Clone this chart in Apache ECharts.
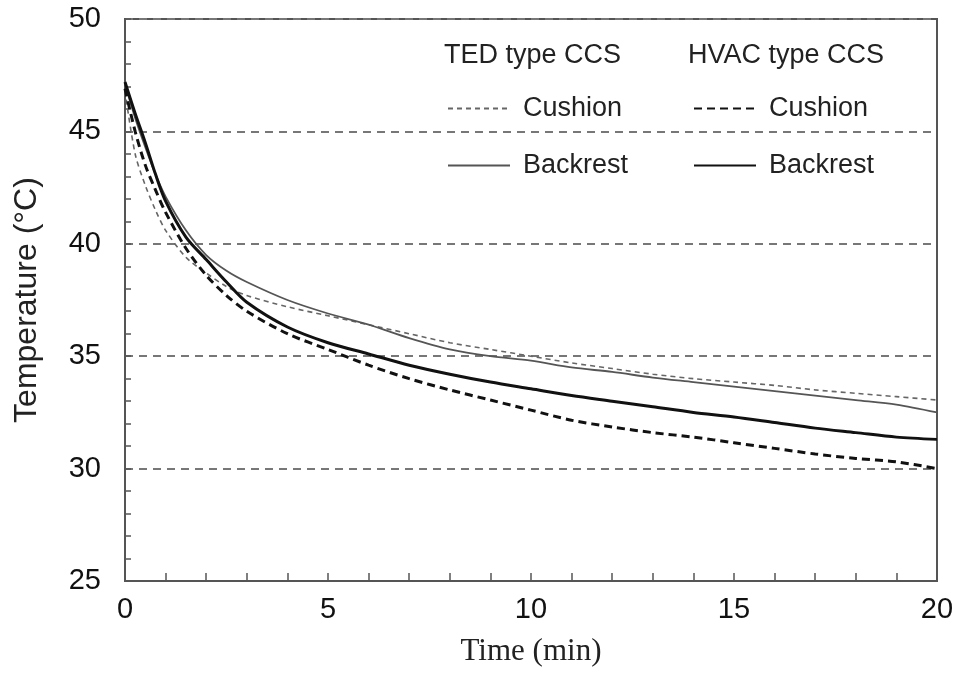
<!DOCTYPE html>
<html>
<head>
<meta charset="utf-8">
<script src="https://cdn.jsdelivr.net/npm/echarts@6/dist/echarts.min.js"></script>
<style>
  html, body { margin: 0; padding: 0; background: #fff; }
  #main { width: 957px; height: 676px; }
</style>
</head>
<body>
<div id="main"></div>
<script>
// time in minutes
var times = [0, 0.25, 0.5, 0.75, 1, 1.5, 2, 2.5, 3, 4, 5, 6, 7, 8, 9, 10, 11, 12, 13, 14, 15, 16, 17, 18, 19, 20];

var tedCushion = [46.8, 44.0, 42.6, 41.5, 40.6, 39.4, 38.7, 38.1, 37.7, 37.2, 36.8, 36.4, 36.0, 35.6, 35.3, 35.0, 34.7, 34.45, 34.2, 34.0, 33.85, 33.7, 33.5, 33.35, 33.2, 33.05];
var tedBackrest = [47.1, 45.6, 44.3, 43.1, 42.1, 40.6, 39.5, 38.8, 38.3, 37.5, 36.9, 36.4, 35.8, 35.3, 35.0, 34.8, 34.5, 34.3, 34.05, 33.85, 33.65, 33.45, 33.25, 33.05, 32.85, 32.5];
var hvacCushion = [46.9, 45.0, 43.5, 42.4, 41.4, 39.8, 38.6, 37.7, 37.0, 36.0, 35.3, 34.6, 34.0, 33.5, 33.05, 32.6, 32.15, 31.85, 31.6, 31.4, 31.15, 30.9, 30.65, 30.45, 30.3, 30.0];
var hvacBackrest = [47.2, 45.8, 44.5, 43.1, 41.9, 40.3, 39.3, 38.3, 37.4, 36.3, 35.6, 35.1, 34.6, 34.2, 33.85, 33.55, 33.25, 33.0, 32.75, 32.5, 32.3, 32.05, 31.8, 31.6, 31.4, 31.3];

function pairs(ys) {
  return times.map(function (t, i) { return [t, ys[i]]; });
}

var chart = echarts.init(document.getElementById('main'), null, { renderer: 'canvas' });

var sans = '"Liberation Sans", Arial, sans-serif';
var legendText = { fontSize: 27, fontFamily: sans, color: '#222', padding: [0, 0, 0, 8] };
function stripPrefix(name) { return name.replace(/^(TED|HVAC) /, ''); }

var option = {
  backgroundColor: '#fff',
  animation: false,
  grid: {
    left: 125, right: 20, top: 19, bottom: 95,
    show: true, borderColor: '#555', borderWidth: 2
  },
  graphic: [
    { type: 'text', left: 444, top: 42, style: { text: 'TED type CCS', font: '27px ' + sans, fill: '#222' } },
    { type: 'text', left: 688, top: 42, style: { text: 'HVAC type CCS', font: '27px ' + sans, fill: '#222' } }
  ],
  legend: [
    {
      data: ['TED Cushion', 'TED Backrest'],
      orient: 'vertical', left: 442, top: 90,
      itemWidth: 62, itemHeight: 20, itemGap: 30,
      itemStyle: { opacity: 0 },
      formatter: stripPrefix, textStyle: legendText
    },
    {
      data: ['HVAC Cushion', 'HVAC Backrest'],
      orient: 'vertical', left: 688, top: 90,
      itemWidth: 62, itemHeight: 20, itemGap: 30,
      itemStyle: { opacity: 0 },
      formatter: stripPrefix, textStyle: legendText
    }
  ],
  xAxis: {
    type: 'value', min: 0, max: 20, interval: 5,
    name: 'Time (min)', nameLocation: 'middle', nameGap: 55,
    nameTextStyle: { fontSize: 31, fontFamily: '"Liberation Serif", "Times New Roman", serif', color: '#222' },
    axisLine: { lineStyle: { color: '#555', width: 2 } },
    axisTick: { inside: true, length: 8, lineStyle: { color: '#555', width: 1.5 } },
    minorTick: { show: true, splitNumber: 5, length: 8, lineStyle: { color: '#555', width: 1.5 } },
    axisLabel: { fontSize: 29, fontFamily: sans, color: '#111', margin: 14 },
    splitLine: { show: false }
  },
  yAxis: {
    type: 'value', min: 25, max: 50, interval: 5,
    name: 'Temperature (°C)', nameLocation: 'middle', nameGap: 82, nameRotate: 90,
    nameTextStyle: { fontSize: 32, fontFamily: sans, color: '#222' },
    axisLine: { show: true, lineStyle: { color: '#555', width: 2 } },
    axisTick: { show: true, inside: true, length: 6, lineStyle: { color: '#555', width: 1.5 } },
    minorTick: { show: true, splitNumber: 5, length: 6, lineStyle: { color: '#555', width: 1.5 } },
    axisLabel: { fontSize: 29, fontFamily: sans, color: '#111', margin: 24 },
    splitLine: { show: true, lineStyle: { color: '#777', width: 2, type: [8, 6] } }
  },
  series: [
    {
      name: 'TED Cushion', type: 'line', symbol: 'none', smooth: 0.3,
      data: pairs(tedCushion),
      lineStyle: { color: '#666', width: 1.6, type: [5, 4] },
      itemStyle: { color: '#666' }
    },
    {
      name: 'TED Backrest', type: 'line', symbol: 'none', smooth: 0.3,
      data: pairs(tedBackrest),
      lineStyle: { color: '#555', width: 1.8 },
      itemStyle: { color: '#555' }
    },
    {
      name: 'HVAC Cushion', type: 'line', symbol: 'none', smooth: 0.3,
      data: pairs(hvacCushion),
      lineStyle: { color: '#111', width: 3, type: [8, 5] },
      itemStyle: { color: '#111' }
    },
    {
      name: 'HVAC Backrest', type: 'line', symbol: 'none', smooth: 0.3,
      data: pairs(hvacBackrest),
      lineStyle: { color: '#111', width: 3 },
      itemStyle: { color: '#111' }
    }
  ]
};

chart.setOption(option);
</script>
</body>
</html>
